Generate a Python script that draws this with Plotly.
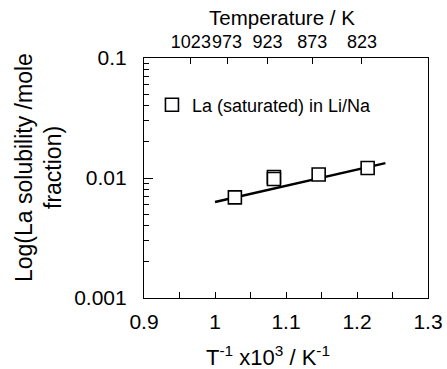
import plotly.graph_objects as go

# data
inv_T = [1.028, 1.083, 1.083, 1.146, 1.215]          # 1000/T (1/K)
solubility = [0.0069, 0.0102, 0.0098, 0.0107, 0.0121]  # mole fraction
fit_x = [1.0, 1.24]
fit_y = [0.0063, 0.0133]

temp_labels = ["1023", "973", "923", "873", "823"]
temp_pos = [0.966, 1.017, 1.074, 1.137, 1.207]

y_major = [0.001, 0.01, 0.1]
y_major_text = ["0.001", "0.01", "0.1"]

FONT = "Liberation Sans, Arial, sans-serif"

y_minor = [k * e for e in (0.001, 0.01) for k in range(2, 10)]

fig = go.Figure()
fig.add_trace(go.Scatter(
    x=fit_x, y=fit_y, mode="lines",
    line=dict(color="black", width=2.5), showlegend=False, hoverinfo="skip"))
fig.add_trace(go.Scatter(
    x=inv_T, y=solubility, mode="markers", name="La (saturated) in Li/Na",
    marker=dict(symbol="square", size=13, color="white",
                line=dict(color="black", width=1.6))))
# invisible trace to activate the top axis
fig.add_trace(go.Scatter(x=fit_x, y=fit_y, xaxis="x2", mode="markers",
                         marker=dict(opacity=0), showlegend=False, hoverinfo="skip"))

fig.update_layout(
    width=447, height=369,
    margin=dict(l=144, r=19, t=58, b=71),
    paper_bgcolor="white", plot_bgcolor="white",
    font=dict(family=FONT, size=18, color="black"),
    showlegend=True,
    legend=dict(x=0.028, y=0.804, xanchor="left", yanchor="middle",
                bgcolor="rgba(0,0,0,0)", font=dict(size=18),
                itemwidth=30),
    xaxis=dict(range=[0.9, 1.3], dtick=0.1, tick0=0.9, ticks="inside", ticklen=6,
               tickwidth=1, tickcolor="black", tickfont=dict(size=21),
               ticklabelstandoff=5, automargin=False,
               minor=dict(dtick=0.05, tick0=0.9, ticks="inside", ticklen=6, tickcolor="black"),
               showline=True, linecolor="black", linewidth=1.2, showgrid=False, zeroline=False),
    xaxis2=dict(range=[0.9, 1.3], overlaying="x", side="top", tickmode="array",
                tickvals=temp_pos, ticktext=temp_labels, ticks="inside", ticklen=6,
                tickangle=0, tickfont=dict(size=18), ticklabelstandoff=2, automargin=False,
                tickcolor="black", showline=True, linecolor="black", linewidth=1.2,
                showgrid=False, zeroline=False),
    yaxis=dict(type="log", range=[-3, -1], tickmode="array", tickvals=y_major,
               ticktext=y_major_text, ticks="inside", ticklen=9, tickcolor="black",
               tickfont=dict(size=21), ticklabelstandoff=12, automargin=False,
               minor=dict(tickvals=y_minor, ticks="inside", ticklen=5, tickcolor="black"),
               showline=True, linecolor="black", linewidth=1.2, mirror=True,
               showgrid=False, zeroline=False),
    annotations=[
        dict(text="Temperature / K", xref="paper", yref="paper",
             x=(281.5 - 144) / 284, y=(298 - 18) / 240, xanchor="center", yanchor="middle",
             showarrow=False, font=dict(size=20.5)),
        dict(text="T<sup>-1</sup> x10<sup>3</sup> / K<sup>-1</sup>", xref="paper", yref="paper",
             x=(267.5 - 144) / 284, y=(298 - 356) / 240, xanchor="center", yanchor="middle",
             showarrow=False, font=dict(size=22)),
        dict(text="Log(La solubility /mole", xref="paper", yref="paper",
             x=(24 - 144) / 284, y=(298 - 168) / 240, xanchor="center", yanchor="middle",
             textangle=-90, showarrow=False, font=dict(size=23)),
        dict(text="fraction)", xref="paper", yref="paper",
             x=(53 - 144) / 284, y=(298 - 168) / 240, xanchor="center", yanchor="middle",
             textangle=-90, showarrow=False, font=dict(size=23)),
    ],
)

fig.write_html("out.html")
